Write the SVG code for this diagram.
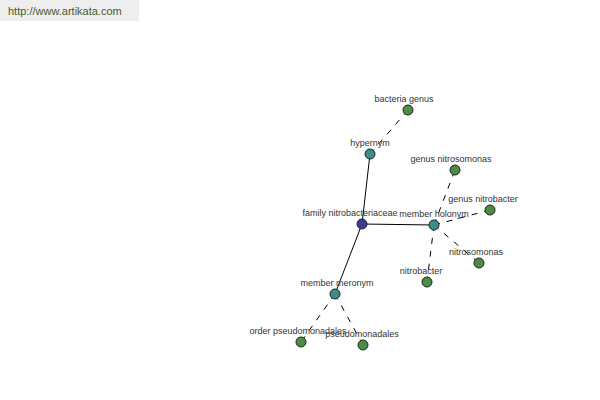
<svg xmlns="http://www.w3.org/2000/svg" width="600" height="400" viewBox="0 0 600 400">
<style>
.lbl{font-family:"Liberation Sans",Arial,sans-serif;font-size:9px;fill:#333;text-anchor:middle}
.solid{stroke:#000;stroke-width:1;fill:none}
.dash{stroke:#000;stroke-width:1;fill:none;stroke-dasharray:6,7}
.n circle{stroke:#222;stroke-width:1}
.g{fill:#4c8c44}
.t{fill:#3c8c8c}
.b{fill:#3c3c98}
</style>
<rect x="0" y="0" width="139" height="21" fill="#eeeeee"/>
<text x="8" y="15" font-family="'Liberation Sans',Arial,sans-serif" font-size="11" fill="#4a5a2a">http://www.artikata.com</text>
<g id="connectors">
<line class="solid" x1="362" y1="224" x2="370" y2="154"/>
<line class="solid" x1="362" y1="224" x2="434" y2="225"/>
<line class="solid" x1="362" y1="224" x2="335" y2="294"/>
<line class="dash" x1="370" y1="154" x2="408" y2="110"/>
<line class="dash" x1="434" y1="225" x2="455" y2="170"/>
<line class="dash" x1="434" y1="225" x2="490" y2="210"/>
<line class="dash" x1="434" y1="225" x2="479" y2="263"/>
<line class="dash" x1="434" y1="225" x2="427" y2="282"/>
<line class="dash" x1="335" y1="294" x2="301" y2="342"/>
<line class="dash" x1="335" y1="294" x2="363" y2="345"/>
</g>
<g id="bacteria-genus" class="n"><circle class="g" cx="408" cy="110" r="5"/><text class="lbl" x="404" y="102">bacteria genus</text></g>
<g id="hypernym" class="n"><circle class="t" cx="370" cy="154" r="5"/><text class="lbl" x="370" y="146">hypernym</text></g>
<g id="family-nitrobacteriaceae" class="n"><circle class="b" cx="362" cy="224" r="5"/><text class="lbl" x="350" y="216">family nitrobacteriaceae</text></g>
<g id="member-holonym" class="n"><circle class="t" cx="434" cy="225" r="5"/><text class="lbl" x="434" y="217">member holonym</text></g>
<g id="genus-nitrosomonas" class="n"><circle class="g" cx="455" cy="170" r="5"/><text class="lbl" x="451" y="162">genus nitrosomonas</text></g>
<g id="genus-nitrobacter" class="n"><circle class="g" cx="490" cy="210" r="5"/><text class="lbl" x="483" y="202">genus nitrobacter</text></g>
<g id="nitrosomonas" class="n"><circle class="g" cx="479" cy="263" r="5"/><text class="lbl" x="476" y="255">nitrosomonas</text></g>
<g id="nitrobacter" class="n"><circle class="g" cx="427" cy="282" r="5"/><text class="lbl" x="421" y="274">nitrobacter</text></g>
<g id="member-meronym" class="n"><circle class="t" cx="335" cy="294" r="5"/><text class="lbl" x="337" y="286">member meronym</text></g>
<g id="order-pseudomonadales" class="n"><circle class="g" cx="301" cy="342" r="5"/><text class="lbl" x="298" y="334">order pseudomonadales</text></g>
<g id="pseudomonadales" class="n"><circle class="g" cx="363" cy="345" r="5"/><text class="lbl" x="362" y="337">pseudomonadales</text></g>
</svg>
